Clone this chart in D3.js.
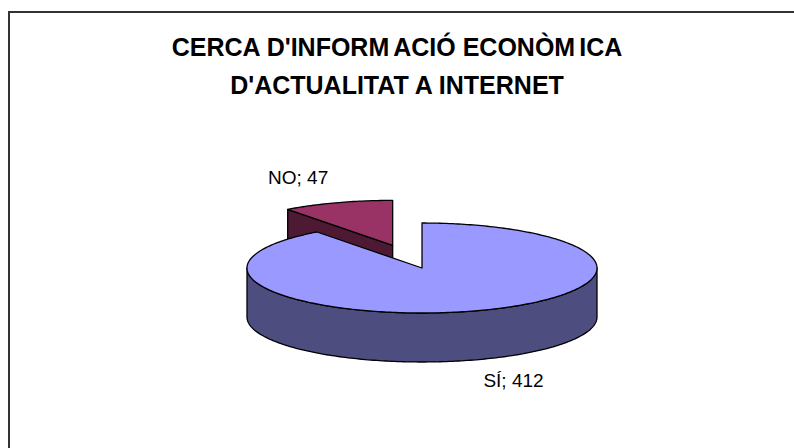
<!DOCTYPE html>
<html>
<head>
<meta charset="utf-8">
<script src="https://cdn.jsdelivr.net/npm/d3@7"></script>
<style>
  html, body { margin: 0; padding: 0; background: #fff; }
  svg { display: block; }
</style>
</head>
<body>
<svg id="chart" width="794" height="448"></svg>
<script>
// ---- data ----
const categories = ["SÍ", "NO"];
const values = [412, 47];
const titleLines = ["CERCA D'INFORMACIÓ ECONÒMICA", "D'ACTUALITAT A INTERNET"];
const topColors = ["#9999FF", "#993366"];
const sideColors = ["#4D4D80", "#4D1933"];
const exploded = [0, 0.53];

// ---- layout ----
const W = 794, H = 448;
const cx = 422, cy = 268, rx = 175, ry = 45, depth = 49;

const svg = d3.select("#chart");
svg.append("rect").attr("width", W).attr("height", H).attr("fill", "#fff");

// frame
svg.append("rect")
  .attr("x", 9).attr("y", 12).attr("width", 820).attr("height", 470)
  .attr("fill", "none").attr("stroke", "#333").attr("stroke-width", 2);

// title: the original renderer leaves a small gap after each "M"
titleLines.forEach((t, i) => {
  const tx = svg.append("text")
    .attr("x", 397).attr("y", 56 + i * 38)
    .attr("text-anchor", "middle")
    .attr("font-family", "Liberation Sans, Arial, sans-serif")
    .attr("font-weight", "bold")
    .attr("font-size", 25)
    .attr("fill", "#000");
  const parts = t.split(/(?<=M)/);
  parts.forEach((p, k) => {
    tx.append("tspan").attr("dx", k === 0 ? 0 : 4).text(p);
  });
});

// pie
const arcs = d3.pie().sort(null).value(d => d).startAngle(0).endAngle(2 * Math.PI)(values);

function origin(i) {
  const a = arcs[i];
  const mid = (a.startAngle + a.endAngle) / 2;
  const e = exploded[i];
  return [cx + e * rx * Math.sin(mid), cy - e * ry * Math.cos(mid)];
}
function pt(o, a, dz) {
  return [o[0] + rx * Math.sin(a), o[1] - ry * Math.cos(a) + (dz || 0)];
}
function arcPts(o, s, e, dz) {
  const n = Math.max(2, Math.ceil((e - s) / (Math.PI / 180)));
  const pts = [];
  for (let k = 0; k <= n; k++) pts.push(pt(o, s + (e - s) * k / n, dz));
  return pts;
}
const line = d3.line();
const g = svg.append("g")
  .attr("stroke", "#000").attr("stroke-width", 1.3).attr("stroke-linejoin", "round");

// draw order: exploded back slice first, then the big slice
const order = [1, 0];
order.forEach(i => {
  const a = arcs[i];
  const o = origin(i);
  const s = a.startAngle, e = a.endAngle;
  const nStart = s - Math.PI / 2;
  if (-Math.cos(nStart) > 0.01) {
    const p = pt(o, s);
    g.append("path")
      .attr("d", line([o, p, [p[0], p[1] + depth], [o[0], o[1] + depth]]) + "Z")
      .attr("fill", sideColors[i]);
  }
  const nEnd = e + Math.PI / 2;
  if (-Math.cos(nEnd) > 0.01) {
    const p = pt(o, e);
    g.append("path")
      .attr("d", line([o, p, [p[0], p[1] + depth], [o[0], o[1] + depth]]) + "Z")
      .attr("fill", sideColors[i]);
  }
  const ws = Math.max(s, Math.PI / 2), we = Math.min(e, 3 * Math.PI / 2);
  if (we > ws) {
    const top = arcPts(o, ws, we, 0);
    const bot = arcPts(o, ws, we, depth).reverse();
    g.append("path").attr("d", line(top.concat(bot)) + "Z").attr("fill", sideColors[i]);
  }
  g.append("path")
    .attr("d", line([o].concat(arcPts(o, s, e, 0))) + "Z")
    .attr("fill", topColors[i]);
});

// labels
const labelFactor = 1.6;
const labelDx = [3, -6], labelDy = [-5, 0];
arcs.forEach((a, i) => {
  const o = origin(i);
  const mid = (a.startAngle + a.endAngle) / 2;
  const front = Math.cos(mid) < 0;
  const x = o[0] + labelFactor * rx * Math.sin(mid) + labelDx[i];
  const y = o[1] - labelFactor * ry * Math.cos(mid) + (front ? depth : 0) + labelDy[i];
  svg.append("text")
    .attr("x", x).attr("y", y)
    .attr("text-anchor", "middle")
    .attr("dominant-baseline", "central")
    .attr("font-family", "Liberation Sans, Arial, sans-serif")
    .attr("font-size", 19)
    .attr("fill", "#000")
    .text(categories[i] + "; " + values[i]);
});
</script>
</body>
</html>
